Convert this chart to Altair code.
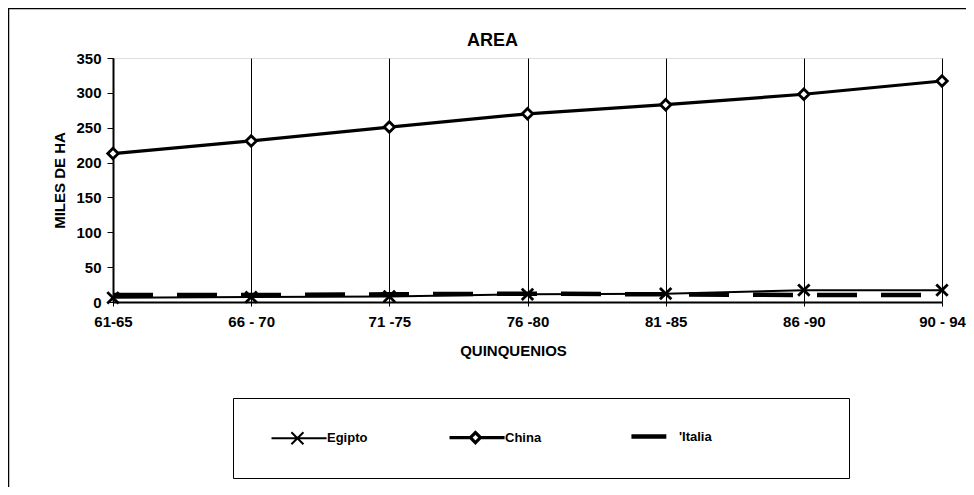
import altair as alt
import pandas as pd

periods = ["61-65", "66 - 70", "71 -75", "76 -80", "81 -85", "86 -90", "90 - 94"]
series = ["Egipto", "China", "'Italia"]
egipto = [6, 7, 8, 11, 12, 17, 17]
china = [213, 231, 251, 270, 283, 298, 317]
italia = [10, 10, 11, 12, 11, 10, 10]

rows = []
for name, vals in zip(series, [egipto, china, italia]):
    for p, v in zip(periods, vals):
        rows.append({"periodo": p, "pais": name, "valor": v})
df = pd.DataFrame(rows)

FONT = "Liberation Sans"

# legend symbol shapes (unit = half of the 72px symbol box); "M0,0.9" stretches the box height
legend_paths = (
    "datum.value == 'Egipto' ? 'M0,0.9M0,0H1.53M0.553,-0.167L0.887,0.167M0.553,0.167L0.887,-0.167' : "
    "datum.value == 'China' ? 'M0,0.9M0,0H0.58M0.86,0H1.53M0.58,0L0.72,-0.14L0.86,0L0.72,0.14Z' : "
    "'M0,0.9M0.22,0H1.19'"
)

x_enc = alt.X(
    "periodo:N",
    sort=periods,
    scale=alt.Scale(type="point", padding=0),
    axis=alt.Axis(
        title="QUINQUENIOS",
        labelAngle=0,
        grid=True,
        gridColor="black",
        gridWidth=1,
        domainColor="black",
        domainWidth=2,
        tickColor="black",
        tickSize=4,
        labelPadding=8,
        labelColor="black",
        labelFont=FONT,
        labelFontSize=15,
        labelFontWeight="bold",
        titleFont=FONT,
        titleFontSize=15,
        titleFontWeight="bold",
        titleColor="black",
        titleX=400,
        titlePadding=14,
    ),
)
y_enc = alt.Y(
    "valor:Q",
    scale=alt.Scale(domain=[0, 350], nice=False),
    axis=alt.Axis(
        title="MILES DE HA",
        values=[0, 50, 100, 150, 200, 250, 300, 350],
        labelOverlap=False,
        grid=False,
        domainColor="black",
        domainWidth=2,
        tickColor="black",
        tickSize=6,
        labelPadding=6,
        labelColor="black",
        labelFont=FONT,
        labelFontSize=15,
        labelFontWeight="bold",
        titleFont=FONT,
        titleFontSize=15,
        titleFontWeight="bold",
        titleColor="black",
        titlePadding=8,
    ),
)

width_scale = alt.Scale(domain=series, range=[2, 4.5, 5])

legend = alt.Legend(
    title=" ",
    titleOrient="right",
    titlePadding=137,
    titleFontSize=4,
    orient="none",
    legendX=120,
    legendY=340,
    direction="horizontal",
    columns=3,
    columnPadding=43,
    padding=0,
    strokeColor="black",
    fillColor="white",
    symbolSize=5184,
    symbolType=alt.ExprRef(expr=legend_paths),
    symbolFillColor="white",
    symbolStrokeColor="black",
    labelOffset=17,
    labelFont=FONT,
    labelFontSize=13,
    labelFontWeight="bold",
    labelColor="black",
)

italia_line = alt.Chart(df[df["pais"] == series[2]]).mark_line(
    color="black", strokeDash=[40, 24]
).encode(
    x=x_enc,
    y=y_enc,
    strokeWidth=alt.StrokeWidth("pais:N", scale=width_scale, legend=legend),
)

solid_lines = alt.Chart(df[df["pais"] != series[2]]).mark_line(color="black").encode(
    x=x_enc,
    y=y_enc,
    detail="pais:N",
    strokeWidth=alt.StrokeWidth("pais:N", scale=width_scale, legend=legend),
)

points = alt.Chart(df[df["pais"] != series[2]]).mark_point(
    filled=True, fill="white", stroke="black", strokeWidth=2.8, opacity=1
).encode(
    x=x_enc,
    y=y_enc,
    shape=alt.Shape(
        "pais:N",
        scale=alt.Scale(
            domain=["Egipto", "China"],
            range=["M-1,-1L1,1M-1,1L1,-1", "M0,-1L1,0L0,1L-1,0Z"],
        ),
        legend=None,
    ),
    size=alt.Size(
        "pais:N",
        scale=alt.Scale(domain=["Egipto", "China"], range=[130, 110]),
        legend=None,
    ),
)

frame = alt.Chart(alt.Data(values=[{}])).mark_rect(
    fill="transparent", stroke="black", strokeWidth=1.5
).encode(
    x=alt.value(-104.5), x2=alt.value(2000), y=alt.value(-49.5), y2=alt.value(2000)
)

chart = alt.layer(frame, italia_line, solid_lines, points).properties(
    width=829,
    height=244,
    autosize=alt.AutoSizeParams(type="none"),
    padding={"left": 105, "top": 50, "right": 24, "bottom": 185},
    title=alt.Title(
        "AREA",
        font=FONT,
        fontSize=18,
        fontWeight="bold",
        color="black",
        anchor="middle",
        dx=-35,
        offset=-42,
    ),
).resolve_scale(shape="independent", size="independent").configure_view(
    stroke="black", strokeWidth=1.5
).configure(background="white")

chart.save("out.html", embed_options={"renderer": "svg", "actions": False})
